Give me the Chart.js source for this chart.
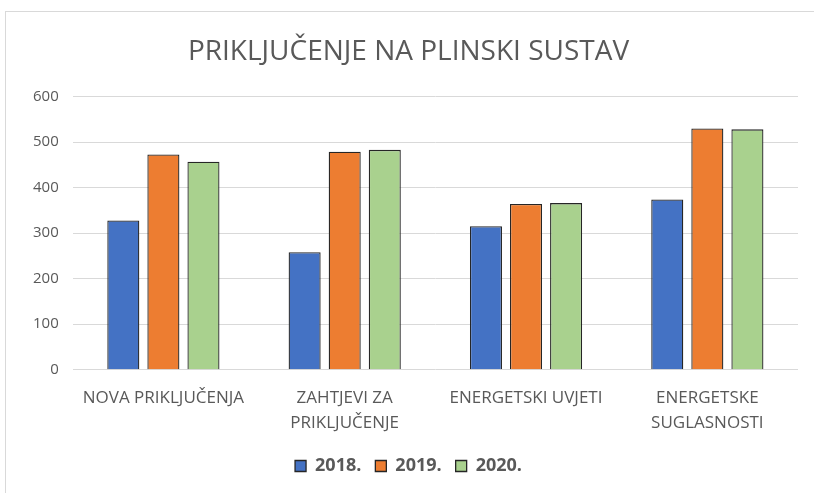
<!DOCTYPE html>
<html>
<head>
<meta charset="utf-8">
<script src="https://cdn.jsdelivr.net/npm/chart.js@4"></script>
<style>
  body { margin: 0; background: #fff; }
  #okvir {
    position: absolute; left: 5px; top: 11px; width: 830px; height: 500px;
    border-top: 1px solid #d9d9d9; border-left: 1px solid #d9d9d9;
  }
  #grafik { position: absolute; left: 0; top: 0; }
</style>
</head>
<body>
<div id="okvir"></div>
<canvas id="grafik" width="814" height="493"></canvas>
<script>
const kategorije = [
    'NOVA PRIKLJUČENJA',
    ['ZAHTJEVI ZA', 'PRIKLJUČENJE'],
    'ENERGETSKI UVJETI',
    ['ENERGETSKE', 'SUGLASNOSTI']
];
const godine = ['2018.', '2019.', '2020.'];
const vrijednosti2018 = [328, 258, 315, 374];
const vrijednosti2019 = [473, 479, 364, 530];
const vrijednosti2020 = [457, 483, 366, 528];
const boje = ['#4472C4', '#ED7D31', '#A9D18E'];

const font = "'Open Sans', sans-serif";
const siva = '#595959';

const ctx = document.getElementById('grafik').getContext('2d');
new Chart(ctx, {
    type: 'bar',
    data: {
        labels: kategorije,
        datasets: [vrijednosti2018, vrijednosti2019, vrijednosti2020].map((podaci, i) => ({
            label: godine[i],
            data: podaci,
            backgroundColor: boje[i],
            borderColor: '#262626',
            borderWidth: 1.3,
            categoryPercentage: 0.663,
            barPercentage: 0.8
        }))
    },
    options: {
        responsive: false,
        animation: false,
        layout: { padding: { left: 19, right: 16, top: 35, bottom: 8 } },
        plugins: {
            title: {
                display: true,
                text: 'PRIKLJUČENJE NA PLINSKI SUSTAV',
                color: siva,
                font: { family: font, size: 28, weight: 'normal', lineHeight: 1.2 },
                padding: { top: 0, bottom: 28 }
            },
            legend: {
                position: 'bottom',
                labels: {
                    color: siva,
                    boxWidth: 11,
                    boxHeight: 11,
                    padding: 14,
                    font: { family: font, size: 18, weight: 'bold' }
                }
            },
            tooltip: { enabled: false }
        },
        scales: {
            x: {
                grid: { display: false },
                border: { display: false },
                ticks: {
                    color: siva,
                    font: { family: font, size: 17, lineHeight: 1.45 },
                    maxRotation: 0,
                    autoSkip: false,
                    padding: 8
                }
            },
            y: {
                min: 0,
                max: 600,
                ticks: {
                    stepSize: 100,
                    color: siva,
                    font: { family: font, size: 15 },
                    padding: 14
                },
                grid: { color: '#d9d9d9', drawTicks: false },
                border: { display: false }
            }
        }
    }
});
</script>
</body>
</html>
